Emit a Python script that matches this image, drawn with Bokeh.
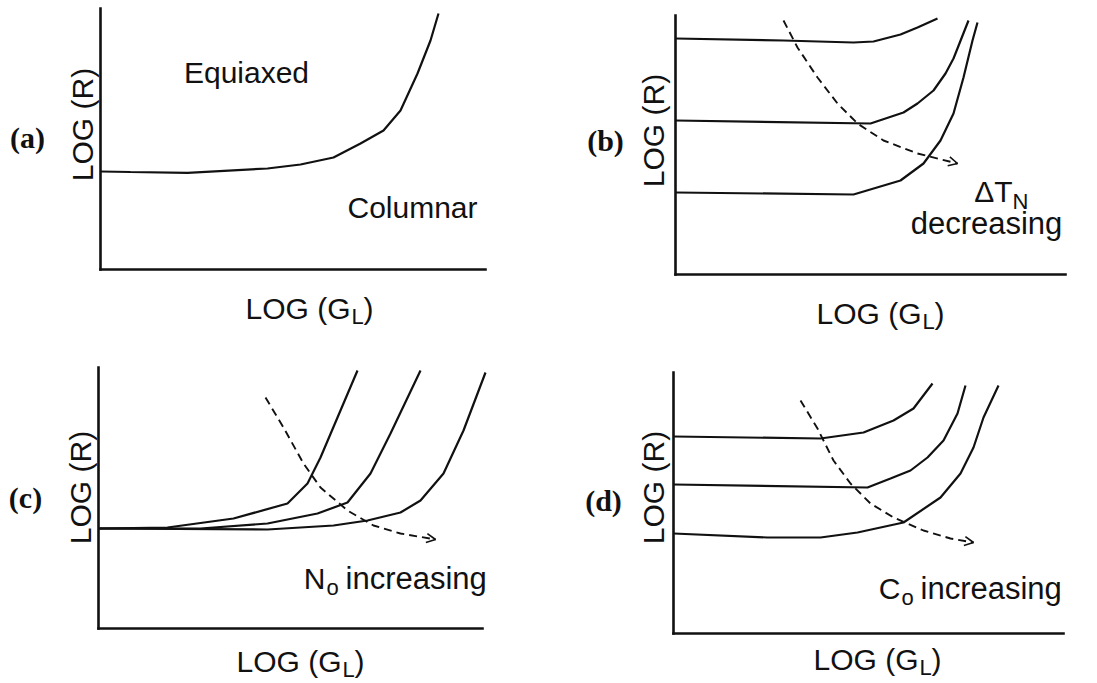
import math
from bokeh.plotting import figure
from bokeh.layouts import column, row
from bokeh.models import Label, Arrow, OpenHead, Range1d, LinearAxis, FixedTicker
from bokeh.embed import file_html
from bokeh.resources import INLINE

# ---------------- data (arbitrary log units) ----------------
# Panel (a): columnar / equiaxed boundary
a_x = [0, 30, 87, 167, 200, 233, 260, 283, 300, 317, 330, 338]
a_y = [98, 97.5, 96.7, 101, 105, 112, 126, 139, 159, 196, 229, 256]

# Panel (b): three boundaries, Delta T_N decreasing
b_top_x = [0, 108, 178, 198, 225, 242, 262]
b_top_y = [236, 234, 232, 233, 240, 247, 256]
b_mid_x = [0, 195, 228, 242, 258, 270, 278, 293]
b_mid_y = [154, 151, 162, 171, 184, 201, 216, 254]
b_bot_x = [0, 178, 225, 248, 265, 278, 288, 297, 302]
b_bot_y = [82, 80, 94, 111, 134, 161, 197, 234, 252]
b_dash_x = [108, 122, 142, 162, 182, 208, 242, 282]
b_dash_y = [254, 227, 197, 171, 151, 134, 121, 111]

# Panel (c): N0 increasing
c1_x = [0, 69, 135, 189, 209, 222, 239, 259]
c1_y = [100, 101, 110, 125, 145, 171, 211, 258]
c2_x = [0, 102, 169, 219, 249, 272, 292, 322]
c2_y = [100, 100, 105, 115, 126, 155, 195, 258]
c3_x = [0, 169, 235, 269, 302, 322, 345, 365, 387]
c3_y = [100, 99, 103, 108, 116, 128, 155, 198, 256]
c_dash_x = [167, 185, 205, 222, 249, 275, 302, 337]
c_dash_y = [231, 201, 165, 141, 118, 103, 95, 89]

# Panel (d): C0 increasing
d1_x = [0, 147, 190, 220, 240, 259]
d1_y = [197, 195, 201, 213, 225, 250]
d2_x = [0, 194, 217, 237, 254, 270, 284, 292]
d2_y = [149, 146, 155, 163, 176, 193, 220, 248]
d3_x = [0, 94, 147, 184, 230, 267, 287, 300, 310, 325]
d3_y = [100, 96, 96, 101, 111, 136, 160, 186, 216, 248]
d_dash_x = [127, 144, 160, 177, 197, 220, 250, 277, 300]
d_dash_y = [233, 205, 173, 150, 130, 116, 103, 95, 91]

SANS = "Liberation Sans"
SERIF = "Liberation Serif"
INK = "#111111"


def make_panel(w, h, xr, yr, xb, yb):
    p = figure(width=w, height=h, x_range=Range1d(*xr), y_range=Range1d(*yr),
               output_backend="svg", toolbar_location=None,
               x_axis_type=None, y_axis_type=None,
               min_border=0, min_border_left=0, min_border_right=0,
               min_border_top=0, min_border_bottom=0)
    p.outline_line_color = None
    p.background_fill_color = "white"
    p.border_fill_color = "white"
    xa = LinearAxis(fixed_location=0, bounds=xb, ticker=FixedTicker(ticks=[]))
    ya = LinearAxis(fixed_location=0, bounds=yb, ticker=FixedTicker(ticks=[]))
    for ax in (xa, ya):
        ax.axis_line_width = 2.6
        ax.axis_line_color = INK
        ax.axis_line_cap = "square"
        ax.major_tick_line_color = None
        ax.minor_tick_line_color = None
    p.add_layout(xa, "below")
    p.add_layout(ya, "left")
    return p


def lbl(p, x, y, text, size="30px", align="center", baseline="middle",
        angle=0.0, font=SANS, style="normal", xoff=0, yoff=0):
    p.add_layout(Label(x=x, y=y, text=text, text_font=font,
                       text_font_size=size, text_align=align,
                       text_baseline=baseline, angle=angle,
                       text_font_style=style, text_color=INK,
                       x_offset=xoff, y_offset=yoff))


def axis_texts(p, tag, tag_xy, r_xy, g_x, g_y):
    lbl(p, tag_xy[0], tag_xy[1], tag, size="30px", font=SERIF, style="bold")
    lbl(p, r_xy[0], r_xy[1], "LOG (R)", size="30px", angle=math.pi / 2)
    lbl(p, g_x, g_y, "LOG (G", align="right", baseline="alphabetic")
    lbl(p, g_x, g_y, "L", size="22px", align="left", baseline="alphabetic",
        xoff=1, yoff=-8)
    lbl(p, g_x, g_y, ")", align="left", baseline="alphabetic", xoff=13)


def curve(p, xs, ys, width=2.2):
    p.line(xs, ys, line_color=INK, line_width=width)


def dashed(p, xs, ys):
    p.line(xs, ys, line_color=INK, line_width=1.9, line_dash="8 5")
    p.add_layout(Arrow(end=OpenHead(size=9, line_width=1.6, line_color=INK),
                       x_start=xs[-2], y_start=ys[-2],
                       x_end=xs[-1], y_end=ys[-1], line_alpha=0))


# ---------------- panel (a) ----------------
pa = make_panel(548, 340, (-100, 448), (-71, 269), (0, 385), (0, 261))
curve(pa, a_x, a_y)
lbl(pa, 146, 197, "Equiaxed")
lbl(pa, 312, 62, "Columnar")
axis_texts(pa, "(a)", (-73, 132), (-18, 145), 250, -39)

# ---------------- panel (b) ----------------
pb = make_panel(549, 340, (-127, 422), (-66, 274), (0, 390), (0, 259))
curve(pb, b_top_x, b_top_y)
curve(pb, b_mid_x, b_mid_y)
curve(pb, b_bot_x, b_bot_y)
dashed(pb, b_dash_x, b_dash_y)
lbl(pb, 337, 83, "\u0394T", align="right", baseline="alphabetic")
lbl(pb, 337, 83, "N", size="22px", align="left", baseline="alphabetic",
    xoff=0, yoff=-10)
lbl(pb, 311, 51, "decreasing", size="31px", baseline="alphabetic")
axis_texts(pb, "(b)", (-70, 134), (-22, 144), 246, -39)

# ---------------- panel (c) ----------------
pc = make_panel(548, 343, (-98, 450), (-55, 288), (0, 384), (0, 261))
curve(pc, c1_x, c1_y)
curve(pc, c2_x, c2_y)
curve(pc, c3_x, c3_y)
dashed(pc, c_dash_x, c_dash_y)
lbl(pc, 227, 50, "N", align="right", baseline="alphabetic")
lbl(pc, 227, 50, "o", size="22px", align="left", baseline="alphabetic",
    xoff=1, yoff=-9)
lbl(pc, 247, 50, "increasing", size="31px", align="left", baseline="alphabetic")
axis_texts(pc, "(c)", (-73, 131), (-18, 141), 243, -33)

# ---------------- panel (d) ----------------
pd = make_panel(549, 343, (-125, 424), (-50, 293), (0, 390), (0, 261))
curve(pd, d1_x, d1_y)
curve(pd, d2_x, d2_y)
curve(pd, d3_x, d3_y)
dashed(pd, d_dash_x, d_dash_y)
lbl(pd, 227, 45, "C", align="right", baseline="alphabetic")
lbl(pd, 227, 45, "o", size="22px", align="left", baseline="alphabetic",
    xoff=1, yoff=-9)
lbl(pd, 247, 45, "increasing", size="31px", align="left", baseline="alphabetic")
axis_texts(pd, "(d)", (-70, 133), (-20, 146), 245, -26)

layout = column(row(pa, pb), row(pc, pd))
open("out.html", "w").write(file_html(layout, INLINE))
